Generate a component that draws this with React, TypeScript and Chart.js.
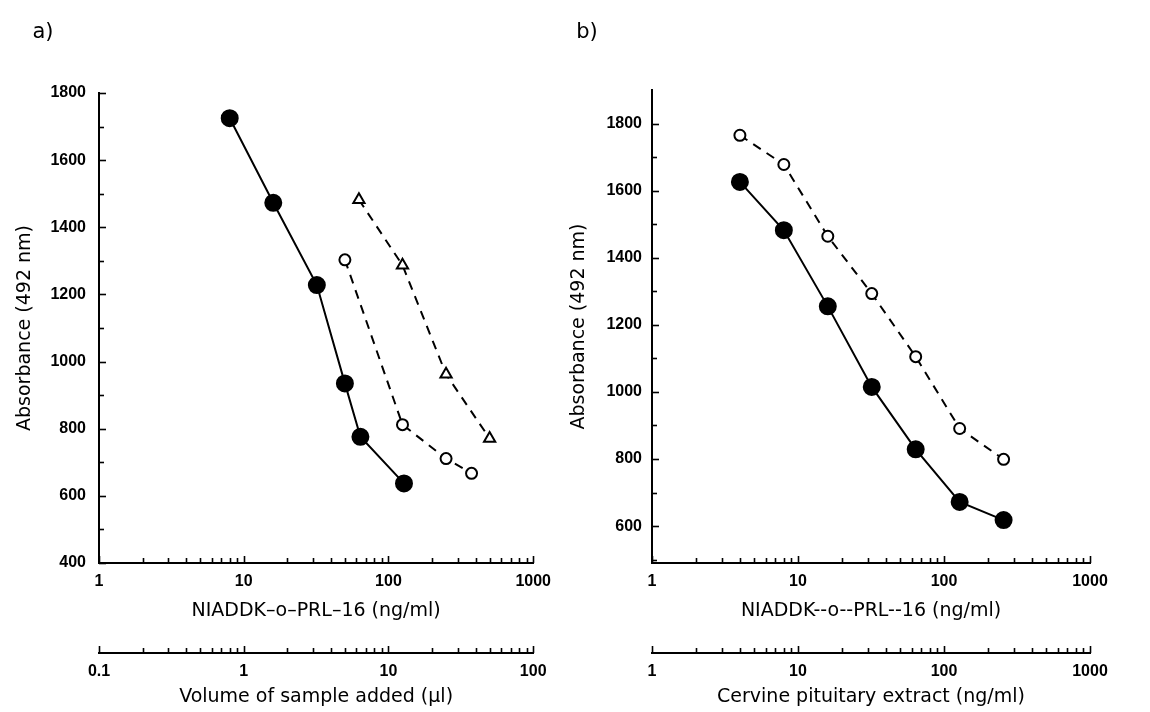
import React, { useEffect, useRef } from 'react';
import { Chart, registerables } from 'chart.js';

Chart.register(...registerables);

// ---------- Panel a: standard curve and sample dilutions ----------
const standardDoseA = [8, 16, 32, 50, 64, 128]; // NIADDK-o-PRL-16 (ng/ml)
const standardAbsA = [1725, 1473, 1228, 935, 776, 637];
const sampleCircleVolA = [5, 12.5, 25, 37.5]; // volume of sample added (µl)
const sampleCircleAbsA = [1303, 812, 711, 667];
const sampleTriangleVolA = [6.25, 12.5, 25, 50];
const sampleTriangleAbsA = [1482, 1287, 962, 771];

// ---------- Panel b: standard curve and cervine pituitary extract ----------
const standardDoseB = [4, 8, 16, 32, 64, 128, 256];
const standardAbsB = [1626, 1482, 1255, 1015, 829, 672, 618];
const extractDoseB = [4, 8, 16, 32, 64, 128, 256];
const extractAbsB = [1765, 1678, 1464, 1293, 1105, 891, 799];

// ---------- Axis decades and labels ----------
const hormoneDecades = [1, 10, 100, 1000];
const volumeDecades = [0.1, 1, 10, 100];
const extractDecades = [1, 10, 100, 1000];
const yLabelsA = [400, 600, 800, 1000, 1200, 1400, 1600, 1800];
const yLabelsB = [600, 800, 1000, 1200, 1400, 1600, 1800];
const yMinorStep = 100;

const hormoneTitleA = 'NIADDK\u2013o\u2013PRL\u201316 (ng/ml)';
const hormoneTitleB = 'NIADDK--o--PRL--16 (ng/ml)';
const volumeTitle = 'Volume of sample added (\u03bcl)';
const extractTitle = 'Cervine pituitary extract (ng/ml)';
const yTitle = 'Absorbance (492 nm)';

const INK = '#000';
const TITLE_FONT = { family: "'DejaVu Sans', sans-serif", size: 19, weight: 'normal' as const };
const TICK_FONT = { family: "'Liberation Sans', Arial, sans-serif", size: 16, weight: 'bold' as const };

function logTickValues(decades: number[]): number[] {
  const out: number[] = [];
  for (let i = 0; i < decades.length - 1; i++) {
    for (let m = 1; m <= 9; m++) out.push(decades[i] * m);
  }
  out.push(decades[decades.length - 1]);
  return out;
}

function linearTickValues(from: number, to: number, step: number): number[] {
  const out: number[] = [];
  for (let v = from; v <= to; v += step) out.push(v);
  return out;
}

function decadeLabel(decades: number[]) {
  return (_v: any, index: number, ticks: any[]) => {
    const v = ticks[index].value;
    const k = decades.findIndex((d) => Math.abs(d - v) < d * 1e-6);
    return k >= 0 ? String(decades[k]) : '';
  };
}

// Tick marks pointing into the plot (up for x axes, right for y axes)
const inwardTicks = {
  id: 'inwardTicks',
  afterDraw(chart: any) {
    const ctx = chart.ctx;
    ctx.save();
    ctx.strokeStyle = INK;
    ctx.lineWidth = 1.6;
    for (const id of Object.keys(chart.scales)) {
      const s = chart.scales[id];
      s.ticks.forEach((t: any) => {
        const p = Math.round(s.getPixelForValue(t.value)) + 0.5;
        const long = t.label !== '' && t.label !== undefined;
        const len = long ? 7 : 5;
        ctx.beginPath();
        if (s.isHorizontal()) {
          ctx.moveTo(p, s.top);
          ctx.lineTo(p, s.top - len);
        } else {
          ctx.moveTo(s.right, p);
          ctx.lineTo(s.right + len, p);
        }
        ctx.stroke();
      });
    }
    ctx.restore();
  },
};

// Panel letter in the top-left corner
const panelLetter = {
  id: 'panelLetter',
  afterDraw(chart: any, _args: any, opts: any) {
    if (!opts || !opts.text) return;
    const ctx = chart.ctx;
    ctx.save();
    ctx.fillStyle = INK;
    ctx.font = "21px 'DejaVu Sans', sans-serif";
    ctx.textAlign = 'center';
    ctx.textBaseline = 'middle';
    ctx.fillText(opts.text, opts.x, opts.y);
    ctx.restore();
  },
};

type PanelSpec = {
  letter: string;
  letterX: number;
  datasets: any[];
  yMin: number;
  yMax: number;
  yTicks: number[];
  yLabels: number[];
  yWidth: number;
  yTitlePad: number;
  yTickPad: number;
  topPad: number;
  rightPad: number;
  xDecades: number[];
  xTitle: string;
  x2Decades: number[];
  x2Title: string;
};

function buildConfig(p: PanelSpec): any {
  const logAxis = (decades: number[], title: string, weight: number, height: number, titleBottom: number) => ({
    type: 'logarithmic',
    position: 'bottom',
    weight,
    min: decades[0],
    max: decades[decades.length - 1],
    afterBuildTicks: (s: any) => {
      s.ticks = logTickValues(decades).map((v) => ({ value: v }));
    },
    afterFit: (s: any) => {
      s.height = height;
    },
    grid: { display: false, drawTicks: false },
    border: { display: true, color: INK, width: 2 },
    ticks: {
      autoSkip: false,
      maxRotation: 0,
      minRotation: 0,
      padding: 9,
      color: INK,
      font: TICK_FONT,
      callback: decadeLabel(decades),
    },
    title: {
      display: true,
      text: title,
      color: INK,
      font: TITLE_FONT,
      padding: { top: 0, bottom: titleBottom },
    },
  });

  return {
    type: 'line',
    data: { datasets: p.datasets },
    options: {
      animation: false,
      responsive: false,
      devicePixelRatio: 1,
      layout: { padding: { top: p.topPad, right: p.rightPad, bottom: 0, left: 0 } },
      plugins: {
        legend: { display: false },
        tooltip: { enabled: false },
        panelLetter: { text: p.letter, x: p.letterX, y: 33 },
      },
      scales: {
        x: logAxis(p.xDecades, p.xTitle, 0, 90, 31),
        x2: logAxis(p.x2Decades, p.x2Title, 1, 59, 4),
        y: {
          type: 'linear',
          position: 'left',
          min: p.yMin,
          max: p.yMax,
          afterBuildTicks: (s: any) => {
            s.ticks = p.yTicks.map((v) => ({ value: v }));
          },
          afterFit: (s: any) => {
            s.width = p.yWidth;
          },
          grid: { display: false, drawTicks: false },
          border: { display: true, color: INK, width: 2 },
          ticks: {
            autoSkip: false,
            padding: p.yTickPad,
            color: INK,
            font: TICK_FONT,
            callback: (v: any) => (p.yLabels.includes(Number(v)) ? String(v) : ''),
          },
          title: {
            display: true,
            text: yTitle,
            color: INK,
            font: TITLE_FONT,
            padding: { top: p.yTitlePad, bottom: 0 },
          },
        },
      },
    },
    plugins: [inwardTicks, panelLetter],
  };
}

const toPoints = (xs: number[], ys: number[]) => xs.map((x, i) => ({ x, y: ys[i] }));

const filledSeries = (xs: number[], ys: number[], axis: string) => ({
  data: toPoints(xs, ys),
  xAxisID: axis,
  yAxisID: 'y',
  borderColor: INK,
  borderWidth: 2,
  backgroundColor: INK,
  pointStyle: 'circle',
  pointRadius: 8,
  pointBackgroundColor: INK,
  pointBorderColor: INK,
  tension: 0,
});

const openSeries = (xs: number[], ys: number[], axis: string, style: string, radius: number) => ({
  data: toPoints(xs, ys),
  xAxisID: axis,
  yAxisID: 'y',
  borderColor: INK,
  borderWidth: 2,
  borderDash: [9, 7],
  backgroundColor: '#fff',
  pointStyle: style,
  pointRadius: radius,
  pointBorderWidth: 2,
  pointBackgroundColor: '#fff',
  pointBorderColor: INK,
  tension: 0,
});

const panelA: PanelSpec = {
  letter: 'a)',
  letterX: 43,
  datasets: [
    openSeries(sampleTriangleVolA, sampleTriangleAbsA, 'x2', 'triangle', 6.5),
    openSeries(sampleCircleVolA, sampleCircleAbsA, 'x2', 'circle', 5.5),
    filledSeries(standardDoseA, standardAbsA, 'x'),
  ],
  yMin: 400,
  yMax: 1800,
  yTicks: linearTickValues(yLabelsA[0], yLabelsA[yLabelsA.length - 1], yMinorStep),
  yLabels: yLabelsA,
  yWidth: 99,
  yTitlePad: 14,
  yTickPad: 13,
  topPad: 93,
  rightPad: 25,
  xDecades: hormoneDecades,
  xTitle: hormoneTitleA,
  x2Decades: volumeDecades,
  x2Title: volumeTitle,
};

const panelB: PanelSpec = {
  letter: 'b)',
  letterX: 27,
  datasets: [
    openSeries(extractDoseB, extractAbsB, 'x2', 'circle', 5.5),
    filledSeries(standardDoseB, standardAbsB, 'x'),
  ],
  yMin: 490,
  yMax: 1900,
  yTicks: linearTickValues(500, yLabelsB[yLabelsB.length - 1], yMinorStep),
  yLabels: yLabelsB,
  yWidth: 92,
  yTitlePad: 8,
  yTickPad: 10,
  topPad: 90,
  rightPad: 60,
  xDecades: hormoneDecades,
  xTitle: hormoneTitleB,
  x2Decades: extractDecades,
  x2Title: extractTitle,
};

function Panel({ spec, left, width }: { spec: PanelSpec; left: number; width: number }) {
  const ref = useRef<HTMLCanvasElement | null>(null);
  useEffect(() => {
    if (!ref.current) return;
    const chart = new Chart(ref.current, buildConfig(spec));
    return () => chart.destroy();
  }, [spec]);
  return (
    <canvas
      ref={ref}
      width={width}
      height={712}
      style={{ position: 'absolute', left, top: 0, width, height: 712 }}
    />
  );
}

export default function App() {
  return (
    <div style={{ position: 'absolute', left: 0, top: 0, width: 1150, height: 712, background: '#fff', overflow: 'hidden' }}>
      <Panel spec={panelA} left={0} width={560} />
      <Panel spec={panelB} left={560} width={590} />
    </div>
  );
}
